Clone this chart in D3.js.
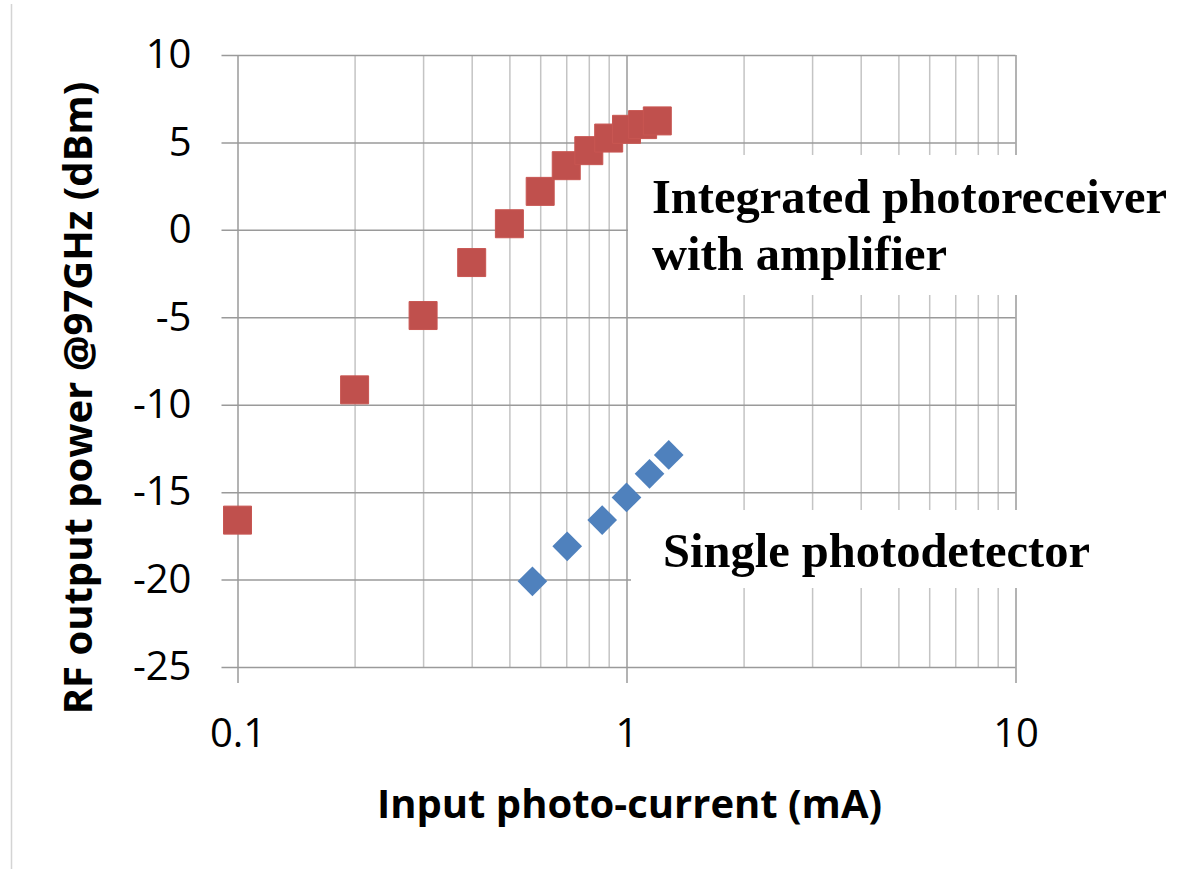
<!DOCTYPE html>
<html>
<head>
<meta charset="utf-8">
<title>RF output power vs photo-current</title>
<script src="https://cdn.jsdelivr.net/npm/d3@7"></script>
<style>
  body { margin: 0; background: #fff; }
  svg text { font-family: "Open Sans", Carlito, sans-serif; }
  .axis path { display: none; }
  .label { font-family: "Liberation Serif", "Times New Roman", serif !important; font-weight: bold; font-size: 48.5px; }
</style>
</head>
<body>
<script>
// data
var ampCurrent = [0.1, 0.2, 0.3, 0.4, 0.5, 0.6, 0.7, 0.8, 0.9, 1.0, 1.1, 1.2];
var ampPower   = [-16.6, -9.15, -4.9, -1.87, 0.35, 2.2, 3.67, 4.53, 5.25, 5.75, 6.02, 6.23];
var pdCurrent  = [0.573, 0.704, 0.866, 1.0, 1.146, 1.284];
var pdPower    = [-20.1, -18.1, -16.6, -15.3, -13.95, -12.87];

var yTicks = [10, 5, 0, -5, -10, -15, -20, -25];
var xMajor = [0.1, 1, 10];
var xMinor = [0.2, 0.3, 0.4, 0.5, 0.6, 0.7, 0.8, 0.9, 2, 3, 4, 5, 6, 7, 8, 9];

var width = 1178, height = 869;
var plotL = 237.5, plotR = 1015.5, plotT = 55, plotB = 667;

var svg = d3.select("body").append("svg")
  .attr("width", width)
  .attr("height", height);

var x = d3.scaleLog().domain([0.1, 10]).range([plotL, plotR]);
var y = d3.scaleLinear().domain([-25, 10]).range([plotB, plotT]);

// thin frame line on the left
svg.append("line")
  .attr("x1", 11.5).attr("x2", 11.5)
  .attr("y1", 4).attr("y2", height)
  .attr("stroke", "#d4d4d4").attr("stroke-width", 1.5);

// minor vertical grid
svg.append("g")
  .attr("class", "axis minor")
  .attr("transform", "translate(0," + plotB + ")")
  .call(d3.axisBottom(x).tickValues(xMinor).tickSize(-(plotB - plotT)).tickFormat(""))
  .selectAll("line").attr("stroke", "#c4c4c4").attr("stroke-width", 1.5);

// y axis with horizontal grid (plain hyphen for negatives, like the original)
var yAxis = svg.append("g")
  .attr("class", "axis")
  .attr("transform", "translate(" + (plotL - 16) + ",0)")
  .call(d3.axisLeft(y).tickValues(yTicks).tickSize(-(plotR - plotL + 16)).tickPadding(30)
    .tickFormat(d => String(d)));
yAxis.selectAll("line").attr("stroke", "#9a9a9a").attr("stroke-width", 1.5);
yAxis.selectAll("text").attr("font-size", 40).attr("fill", "#000");

// x axis with decade lines
var xAxis = svg.append("g")
  .attr("class", "axis")
  .attr("transform", "translate(0," + (plotB + 16) + ")")
  .call(d3.axisBottom(x).tickValues(xMajor).tickSize(-(plotB + 16 - plotT)).tickPadding(36)
    .tickFormat(d => String(d)));
xAxis.selectAll("line").attr("stroke", "#9a9a9a").attr("stroke-width", 1.5);
xAxis.selectAll("text").attr("font-size", 40).attr("fill", "#000");

// axis titles
svg.append("text")
  .attr("x", (plotL + plotR) / 2 + 3)
  .attr("y", 818)
  .attr("text-anchor", "middle")
  .attr("font-size", 40)
  .attr("font-weight", "bold")
  .text("Input photo-current (mA)");

svg.append("text")
  .attr("transform", "translate(92," + 398 + ") rotate(-90)")
  .attr("text-anchor", "middle")
  .attr("font-size", 40)
  .attr("font-weight", "bold")
  .text("RF output power @97GHz (dBm)");

// label boxes hide the grid behind them
svg.append("rect").attr("x", 628).attr("y", 155).attr("width", 550).attr("height", 140).attr("fill", "#fff");
svg.append("rect").attr("x", 631).attr("y", 510).attr("width", 480).attr("height", 78).attr("fill", "#fff");

svg.append("text").attr("class", "label").attr("x", 652).attr("y", 213).text("Integrated photoreceiver");
svg.append("text").attr("class", "label").attr("x", 652).attr("y", 270).text("with amplifier");
svg.append("text").attr("class", "label").attr("x", 663).attr("y", 567).text("Single photodetector");

// series
var amp = ampCurrent.map((c, i) => ({ c: c, p: ampPower[i] }));
var pd = pdCurrent.map((c, i) => ({ c: c, p: pdPower[i] }));

svg.append("g").selectAll("path")
  .data(amp)
  .enter()
  .append("path")
  .attr("d", d3.symbol().type(d3.symbolSquare).size(28 * 28))
  .attr("transform", d => "translate(" + x(d.c) + "," + y(d.p) + ")")
  .attr("fill", "#C0504D")
  .attr("stroke", "#C85652")
  .attr("stroke-width", 1);

svg.append("g").selectAll("path")
  .data(pd)
  .enter()
  .append("path")
  .attr("d", d3.symbol().type(d3.symbolSquare).size(21 * 21))
  .attr("transform", d => "translate(" + x(d.c) + "," + y(d.p) + ") rotate(45)")
  .attr("fill", "#4F81BD");
</script>
</body>
</html>
